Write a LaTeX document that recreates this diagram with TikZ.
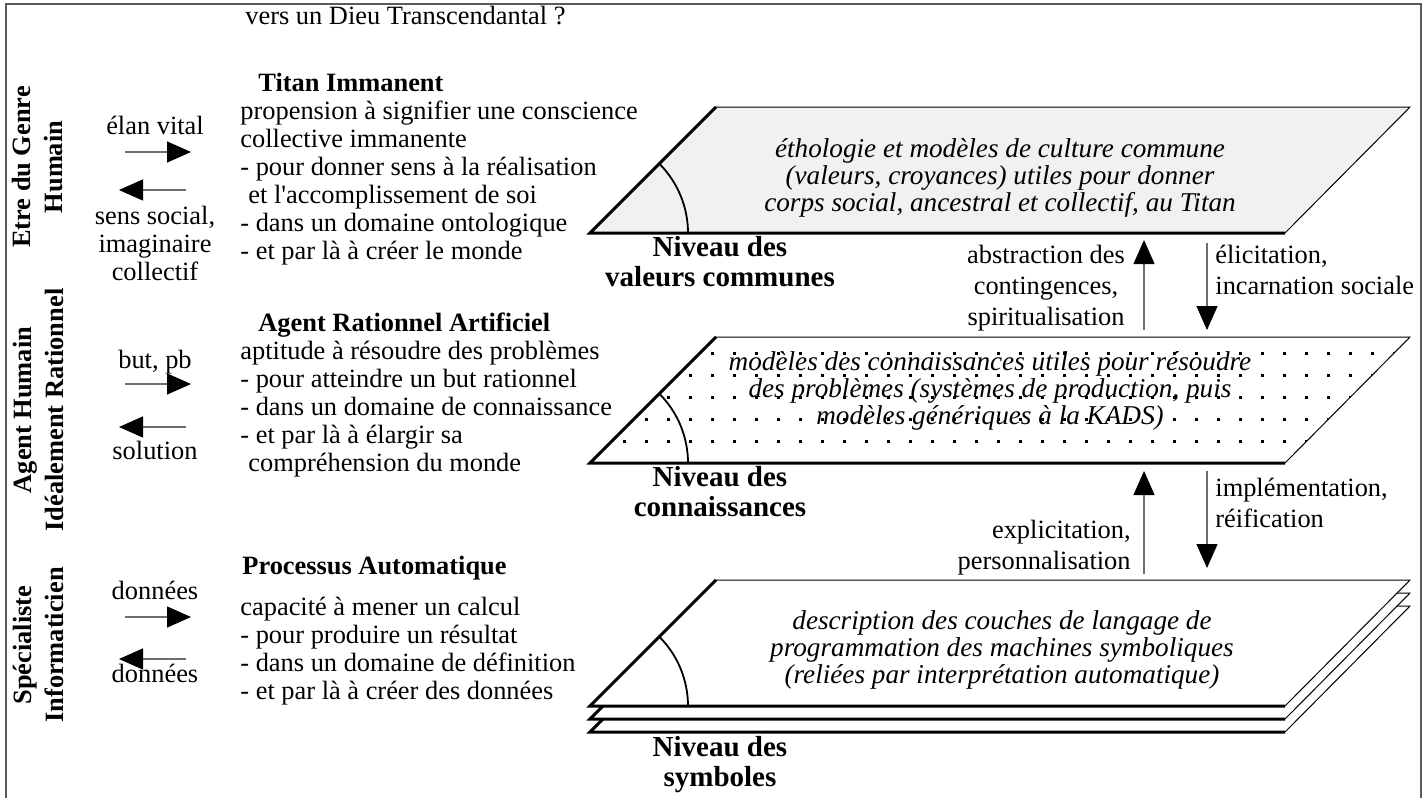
\documentclass[tikz,border=0pt]{standalone}
\usepackage{fontspec}
\setmainfont{Liberation Serif}
\usetikzlibrary{arrows.meta}
\definecolor{layerfill}{RGB}{241,241,241}
\definecolor{framegray}{RGB}{90,90,90}
\definecolor{stemgray}{RGB}{110,110,110}

% multi-line nodes below are placed by the baseline of their last line
\tikzset{
  bodytext/.style={font=\fontsize{13.2}{14}\selectfont, inner sep=0pt, align=left, anchor=base west},
  titletext/.style={font=\fontsize{13.2}{14}\selectfont\bfseries, inner sep=0pt, anchor=base west},
  flowtext/.style={font=\fontsize{13.2}{14}\selectfont, inner sep=0pt, align=center, anchor=base},
  steptext/.style={font=\fontsize{13.2}{15.5}\selectfont, inner sep=0pt},
  leveltext/.style={font=\fontsize{14.5}{15}\selectfont\bfseries, inner sep=0pt, align=center, anchor=base},
  layertext/.style={font=\fontsize{13.6}{13.3}\selectfont\itshape, inner sep=0pt, align=center, anchor=base},
  roletext/.style={font=\fontsize{13.2}{16}\selectfont\bfseries, inner sep=0pt, align=center, rotate=90},
  thickedge/.style={line width=1.5pt, line join=miter},
  thinedge/.style={line width=0.5pt},
  flow/.style={stemgray, line width=0.6pt, -{Triangle[length=12pt, width=10.5pt, color=black]}},
}

\begin{document}
\begin{tikzpicture}[x=0.5pt, y=-0.5pt]
    \useasboundingbox (0,0) rectangle (1428,798);
    % Frame (open at the bottom)
    \draw[framegray, line width=0.6pt] (6,798) -- (6,4) -- (1421,4) -- (1421,798);
    \node[bodytext] (dieu) at (245,24) {vers un Dieu Transcendantal ?};

    % Roles along the left edge
    \node[roletext] (roleA) at (38,167) {Etre du Genre\\Humain};
    \node[roletext] (roleB) at (38,410) {Agent Humain\\Idéalement Rationnel};
    \node[roletext] (roleC) at (38,645) {Spécialiste\\Informaticien};

    % Exchanges with each role
    \node[flowtext] (elan) at (155,134) {élan vital};
    \coordinate (elanS) at (125,152);  \coordinate (elanE) at (191,152);
    \coordinate (sensS) at (186,190);  \coordinate (sensE) at (119,190);
    \node[flowtext] (sens) at (155,280) {sens social,\\imaginaire\\collectif};
    \node[flowtext] (butpb) at (155,368) {but, pb};
    \coordinate (butS) at (125,384);   \coordinate (butE) at (191,384);
    \coordinate (solS) at (186,427);   \coordinate (solE) at (119,427);
    \node[flowtext] (sol) at (155,459) {solution};
    \node[flowtext] (donIn) at (155,599) {données};
    \coordinate (donS) at (125,617);   \coordinate (donE) at (191,617);
    \coordinate (retS) at (186,659);   \coordinate (retE) at (119,659);
    \node[flowtext] (donOut) at (155,682) {données};
    \foreach \a/\b in {elanS/elanE, sensS/sensE, butS/butE, solS/solE, donS/donE, retS/retE}
      \draw[flow] (\a) -- (\b);

    % Descriptions of the three agents
    \node[titletext] (titan) at (258,91) {Titan Immanent};
    \node[bodytext] (titanTxt) at (240,259) {propension à signifier une conscience\\collective immanente\\- pour donner sens à la réalisation\\\hspace*{4pt}et l\textquotesingle accomplissement de soi\\- dans un domaine ontologique\\- et par là à créer le monde};
    \node[titletext] (agent) at (258,331) {Agent Rationnel Artificiel};
    \node[bodytext] (agentTxt) at (240,471) {aptitude à résoudre des problèmes\\- pour atteindre un but rationnel\\- dans un domaine de connaissance\\- et par là à élargir sa\\\hspace*{4pt}compréhension du monde};
    \node[titletext] (proc) at (242,574) {Processus Automatique};
    \node[bodytext] (procTxt) at (240,699) {capacité à mener un calcul\\- pour produire un résultat\\- dans un domaine de définition\\- et par là à créer des données};

    % Level of common values (grey plane)
    \coordinate (vA) at (590,233); \coordinate (vB) at (1285,233);
    \coordinate (vC) at (1410,107); \coordinate (vD) at (716,107);
    \fill[layerfill] (vA) -- (vB) -- (vC) -- (vD) -- cycle;
    \draw[thinedge] (vD) -- (vC) -- (vB);
    \draw[thickedge] (vD) -- (vA) -- (vB);
    \draw[line width=0.9pt] (688,233) arc[start angle=0, end angle=-45, radius=98];
    \node[layertext] (valTxt) at (1000,211) {éthologie et modèles de culture commune\\(valeurs, croyances) utiles pour donner\\corps social, ancestral et collectif, au Titan};
    \node[leveltext] (valLvl) at (720,286) {Niveau des\\valeurs communes};

    % Level of knowledge (dotted plane)
    \coordinate (kA) at (590,463); \coordinate (kB) at (1285,463);
    \coordinate (kC) at (1410,337); \coordinate (kD) at (716,337);
    \fill[white] (kA) -- (kB) -- (kC) -- (kD) -- cycle;
    \begin{scope}
      \clip (kA) -- (kB) -- (kC) -- (kD) -- cycle;
      \foreach \x in {601,623,...,1410}
        \foreach \y in {352,374,...,441}
          \fill (\x,\y) rectangle ++(2.6,2.6);
    \end{scope}
    \draw[thinedge] (kD) -- (kC) -- (kB);
    \draw[thickedge] (kD) -- (kA) -- (kB);
    \draw[line width=0.9pt] (688,463) arc[start angle=0, end angle=-45, radius=98];
    \node[layertext] (kTxt) at (990,424) {modèles des connaissances utiles pour résoudre\\des problèmes (systèmes de production, puis\\modèles génériques à la KADS)};
    \node[leveltext] (kLvl) at (720,516) {Niveau des\\connaissances};

    % Level of symbols (stack of three planes)
    \foreach \o in {26,13,0} {
      \fill[white] (590,706+\o) -- (1285,706+\o) -- (1410,580+\o) -- (716,580+\o) -- cycle;
      \draw[thinedge] (716,580+\o) -- (1410,580+\o) -- (1285,706+\o);
      \draw[thickedge] (716,580+\o) -- (590,706+\o) -- (1285,706+\o);
    }
    \draw[line width=0.9pt] (688,706) arc[start angle=0, end angle=-45, radius=98];
    \node[layertext] (sTxt) at (1002,683) {description des couches de langage de\\programmation des machines symboliques\\(reliées par interprétation automatique)};
    \node[leveltext] (sLvl) at (720,786) {Niveau des\\symboles};

    % Transitions between levels
    \coordinate (up1S) at (1144,330); \coordinate (up1E) at (1144,240);
    \coordinate (dn1S) at (1207,243); \coordinate (dn1E) at (1207,330);
    \coordinate (up2S) at (1144,574); \coordinate (up2E) at (1144,471);
    \coordinate (dn2S) at (1207,471); \coordinate (dn2E) at (1207,568);
    \foreach \a/\b in {up1S/up1E, dn1S/dn1E, up2S/up2E, dn2S/dn2E}
      \draw[flow] (\a) -- (\b);
    \node[steptext, align=center, anchor=base] (abstr) at (1046,325) {abstraction des\\contingences,\\spiritualisation};
    \node[steptext, align=left, anchor=base west] (elic) at (1215,294) {élicitation,\\incarnation sociale};
    \node[steptext, align=left, anchor=base west] (impl) at (1215,527) {implémentation,\\réification};
    \node[steptext, align=right, anchor=base east] (expl) at (1131,569) {explicitation,\\personnalisation};
  \end{tikzpicture}
\end{document}
